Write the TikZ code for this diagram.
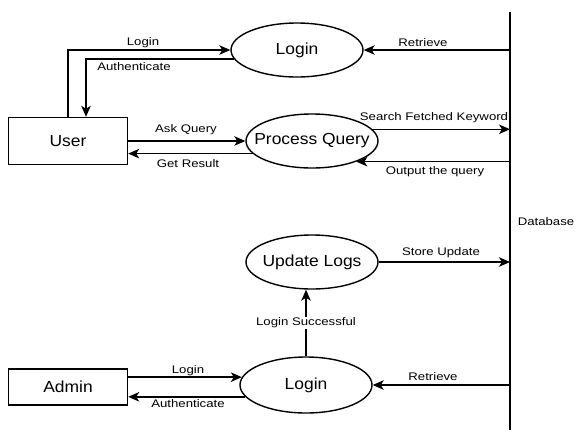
\documentclass[tikz,border=0pt]{standalone}
\usepackage{fontspec}
\setmainfont{Liberation Sans}
\usetikzlibrary{shapes.geometric,arrows.meta,calc}
\newcommand{\lbltxt}[1]{\scalebox{1.2}[1]{\fontsize{11}{13}\selectfont #1}}
\newcommand{\bigtxt}[1]{\scalebox{1.09}[1]{\fontsize{16}{18}\selectfont #1}}
\begin{document}
\begin{tikzpicture}[x=1pt,y=-1pt,
  every path/.style={line width=1.4pt},
  arr/.style={draw,-{Stealth[length=11pt,width=9.5pt,inset=3pt]}},
  proc/.style={draw,ellipse,minimum width=132pt,minimum height=54pt,inner sep=0pt},
  ent/.style={draw,rectangle,minimum width=119pt,minimum height=47pt,inner sep=0pt},
  lab/.style={inner sep=1pt}]
\useasboundingbox (0,0) rectangle (577,432);
% database line
\coordinate (dbtop) at (510,12);
\coordinate (dbbot) at (510,430);
\draw (dbtop) -- (dbbot);
\node[lab] (dblab) at (546,222) {\lbltxt{Database}};
% nodes
\node[ent] (user) at (68,141) {\bigtxt{User}};
\node[ent,minimum height=36pt] (admin) at (68,387) {\bigtxt{Admin}};
\node[proc,label=center:{\bigtxt{Login}}] (login1) at (297,50) {};
\node[proc,label=center:{\bigtxt{Process Query}}] (pq) at (312,141) {};
\node[proc,label=center:{\bigtxt{Update Logs}}] (ul) at (312,262) {};
\node[proc,minimum height=56pt,label=center:{\bigtxt{Login}}] (login2) at (306,385) {};
% user <-> login
\draw[arr] (user.north) |- (login1.west);
\coordinate (authx) at ($(user.north)+(18,0)$);
\draw[arr] (login1.188) -| (authx);
\node[lab] (l1) at (143,43) {\lbltxt{Login}};
\node[lab] (l2) at (134,67) {\lbltxt{Authenticate}};
% retrieve top
\draw[arr] (dbtop |- login1.east) -- (login1.east);
\node[lab] (l3) at (423,43) {\lbltxt{Retrieve}};
% user <-> process query
\draw[arr] (user.east |- pq.west) -- (pq.west);
\draw[arr] (pq.192.7) -- (user.east |- pq.192.7);
\node[lab] (l4) at (186,130) {\lbltxt{Ask Query}};
\node[lab] (l5) at (188,164) {\lbltxt{Get Result}};
% process query <-> db
\draw[arr] (pq.11.5) -- (dbtop |- pq.11.5);
\draw[arr] (dbtop |- pq.335.7) -- (pq.335.7);
\node[lab] (l6) at (434,118) {\lbltxt{Search Fetched Keyword}};
\node[lab] (l7) at (435,172) {\lbltxt{Output the query}};
% update logs
\draw[arr] (ul.east) -- (dbtop |- ul.east);
\node[lab] (l8) at (441,253) {\lbltxt{Store Update}};
\draw[arr] (login2.north) -- node[lab,fill=white] (l9) {\lbltxt{Login Successful}} (login2.north |- ul.south);
% lower login
\draw[arr] (dbtop |- login2.east) -- (login2.east);
\node[lab] (l10) at (433,377) {\lbltxt{Retrieve}};
\draw[arr] (admin.east |- login2.173.8) -- (login2.173.8);
\draw[arr] (login2.191.4) -- (admin.east |- login2.191.4);
\node[lab] (l11) at (188,371) {\lbltxt{Login}};
\node[lab] (l12) at (188,404) {\lbltxt{Authenticate}};
\end{tikzpicture}
\end{document}
